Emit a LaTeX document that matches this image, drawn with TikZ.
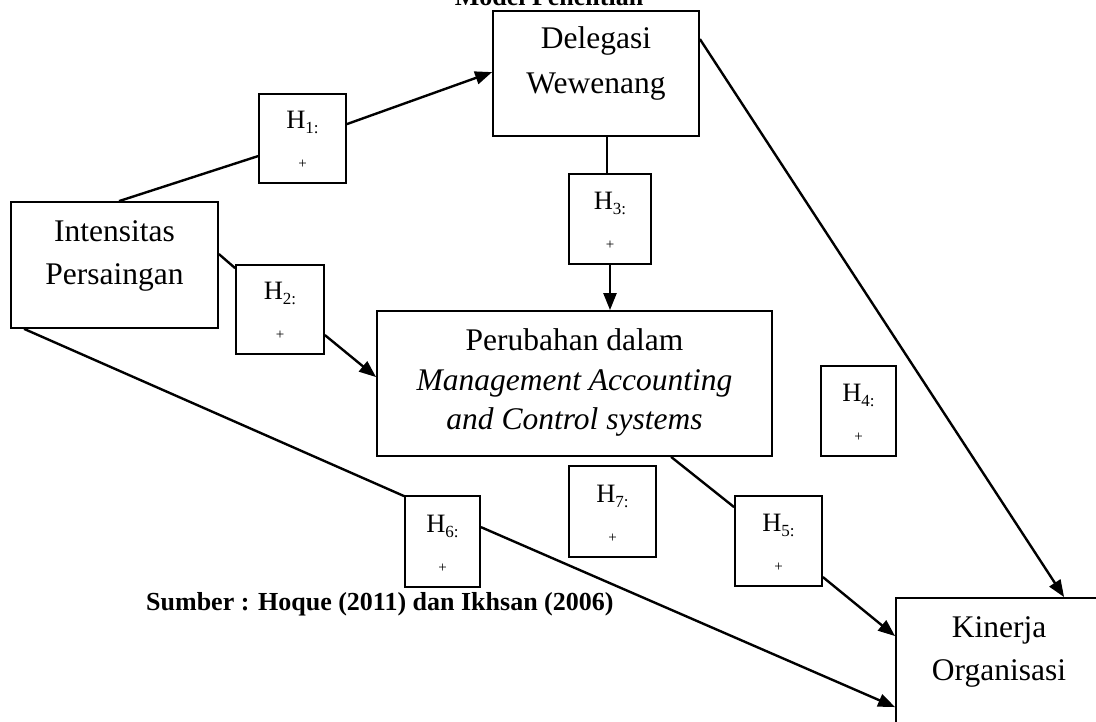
\documentclass[tikz,border=0pt]{standalone}
\usepackage{fontspec}
\setmainfont{Liberation Serif}
\usetikzlibrary{arrows.meta}

% stacked lines of a box label; #1 = distance between baselines
\newcommand{\boxlines}[2]{\fontsize{31.5}{#1}\selectfont\begin{tabular}[t]{@{}c@{}}#2\end{tabular}}
% hypothesis label: H with its index, and the sign below
\newcommand{\hyp}[1]{\fontsize{26.5}{40}\selectfont\begin{tabular}[t]{@{}c@{}}H\raisebox{-5pt}{\fontsize{17}{17}\selectfont #1:}\\{\fontsize{15}{15}\selectfont +}\end{tabular}}

\begin{document}
\begin{tikzpicture}[x=1pt,y=-1pt,
  box/.style={draw, rectangle, line width=1.8pt, inner sep=0pt},
  hbox/.style={box, text height=20pt, text depth=39pt},
  link/.style={line width=2.4pt},
  arr/.style={link, -{Triangle[length=17pt,width=13pt]}},
  note/.style={font=\fontsize{26}{30}\selectfont\bfseries, inner sep=0pt}]
\useasboundingbox (0,0) rectangle (1096,722);

% heading and source line
\node[note, anchor=base] (title) at (549,6) {Model Penelitian};
\node[note, anchor=base west] (src) at (146,610) {Sumber : Hoque (2011) dan Ikhsan (2006)};

% variables
\node[box, minimum width=207pt, minimum height=126pt, text height=22pt, text depth=68pt]
  (int) at (114.5,265) {\boxlines{43}{Intensitas\\Persaingan}};
\node[box, minimum width=206pt, minimum height=125pt, text height=22pt, text depth=71pt]
  (del) at (596,73.5) {\boxlines{45}{Delegasi\\Wewenang}};
\node[box, minimum width=395pt, minimum height=145pt, text height=22pt, text depth=89pt]
  (per) at (574.5,383.5) {\boxlines{40}{Perubahan dalam\\\textit{Management Accounting}\\\textit{and Control systems}}};
\node[box, minimum width=206pt, minimum height=126pt, text height=22pt, text depth=70pt]
  (kin) at (999,661) {\boxlines{43}{Kinerja\\Organisasi}};

% hypotheses
\node[hbox, minimum width=87pt, minimum height=89pt] (h1) at (302.5,138.5) {\hyp{1}};
\node[hbox, minimum width=88pt, minimum height=89pt] (h2) at (280,309.5) {\hyp{2}};
\node[hbox, minimum width=82pt, minimum height=90pt] (h3) at (610,219) {\hyp{3}};
\node[hbox, minimum width=75pt, minimum height=90pt] (h4) at (858.5,411) {\hyp{4}};
\node[hbox, minimum width=87pt, minimum height=90pt] (h5) at (778.5,541) {\hyp{5}};
\node[hbox, minimum width=75pt, minimum height=91pt] (h6) at (442.5,541.5) {\hyp{6}};
\node[hbox, minimum width=87pt, minimum height=91pt] (h7) at (612.5,511.5) {\hyp{7}};

% H1: competition -> delegation
\draw[link] ([xshift=109pt]int.north west) -- ([yshift=-63pt]h1.north west);
\draw[arr] ([yshift=-31pt]h1.north east) -- ([yshift=-62pt]del.north west);
% H2: competition -> MACS change
\draw[link] ([yshift=-53pt]int.north east) -- ([yshift=-4pt]h2.north west);
\draw[arr] ([yshift=-71pt]h2.north east) -- ([yshift=-67pt]per.north west);
% H3: delegation -> MACS change
\draw[link] ([xshift=115pt]del.south west) -- ([xshift=39pt]h3.north west);
\draw[arr] (h3.south) -- (h3.south |- per.north);
% H4: delegation -> performance
\draw[arr] ([yshift=-29pt]del.north east) -- ([xshift=169pt]kin.north west);
% H5: MACS change -> performance
\draw[link] ([xshift=295pt]per.south west) -- ([yshift=-12pt]h5.north west);
\draw[arr] ([yshift=-82pt]h5.north east) -- ([yshift=-39pt]kin.north west);
% H6: competition -> performance
\draw[link] ([xshift=14pt]int.south west) -- ([yshift=-1pt]h6.north west);
\draw[arr] ([yshift=-32pt]h6.north east) -- ([yshift=-110pt]kin.north west);
\end{tikzpicture}
\end{document}
